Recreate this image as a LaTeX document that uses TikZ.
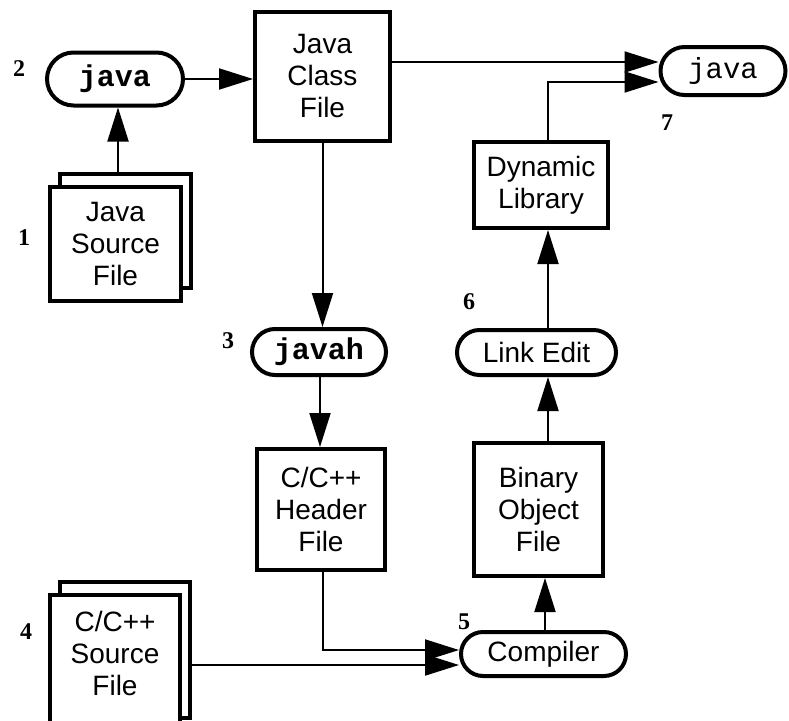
\documentclass[tikz,border=0pt]{standalone}
\usepackage{fontspec}
\setmainfont{Liberation Serif}
\setsansfont{Liberation Sans}
\setmonofont{Liberation Mono}
\usetikzlibrary{arrows.meta,shapes.misc,shadows}
\tikzset{
  filebox/.style={draw, line width=4pt, fill=white, align=center, inner sep=2pt, font=\sffamily\fontsize{28}{32}\selectfont},
  stackbox/.style={filebox, copy shadow={shadow xshift=10pt, shadow yshift=13pt}},
  toolpill/.style={rounded rectangle, draw, line width=4pt, fill=white, inner sep=2pt, font=\ttfamily\fontsize{30}{32}\selectfont},
  namepill/.style={toolpill, font=\sffamily\fontsize{28}{30}\selectfont},
  numlabel/.style={inner sep=0pt, font=\bfseries\fontsize{24}{24}\selectfont},
  flowarrow/.style={-{Triangle[length=34pt,width=21pt]}, line width=2pt}
}
\begin{document}
\begin{tikzpicture}[x=1pt, y=1pt]
  \useasboundingbox (0,0) rectangle (789,-720);
  % java side
  \node[toolpill, minimum width=140pt, minimum height=53pt, font=\ttfamily\bfseries\fontsize{30}{32}\selectfont] (jrun) at (115,-79) {java};
  \node[filebox, minimum width=135pt, minimum height=129pt] (jclass) at (322.5,-76.5) {Java\\Class\\File};
  \node[stackbox, minimum width=131pt, minimum height=114pt] (jsrc) at (115.5,-244) {Java\\Source\\File};
  \node[toolpill, minimum width=138pt, minimum height=46pt, font=\ttfamily\bfseries\fontsize{30}{32}\selectfont] (javah) at (319,-352) {javah};
  \node[filebox, minimum width=128pt, minimum height=121pt] (hdr) at (321,-509.5) {C/C++\\Header\\File};
  \node[stackbox, minimum width=130pt, minimum height=136pt] (csrc) at (115,-663) {C/C++\\Source\\File\\[-12pt]\mbox{}};
  % native side
  \node[namepill, minimum width=169pt, minimum height=44pt] (cc) at (543.5,-654) {Compiler};
  \node[filebox, minimum width=129pt, minimum height=133pt] (obj) at (538.5,-509.5) {Binary\\Object\\File};
  \node[namepill, minimum width=163pt, minimum height=45pt] (link) at (536.5,-352.5) {Link Edit};
  \node[filebox, minimum width=134pt, minimum height=86pt] (dlib) at (541,-185) {Dynamic\\Library};
  \node[toolpill, minimum width=129pt, minimum height=48pt, font=\ttfamily\fontsize{29}{31}\selectfont] (jrun2) at (723,-71) {java};
  % step numbers
  \node[numlabel] (n1) at (24,-238) {1};
  \node[numlabel] (n2) at (19,-69) {2};
  \node[numlabel] (n3) at (228,-341) {3};
  \node[numlabel] (n4) at (26,-632) {4};
  \node[numlabel] (n5) at (464,-622) {5};
  \node[numlabel] (n6) at (469,-302) {6};
  \node[numlabel] (n7) at (667,-123) {7};
  % connectors
  \draw[flowarrow] ([xshift=2.5pt,yshift=13pt]jsrc.north) -- ([xshift=3pt]jrun.south);
  \draw[flowarrow] (jrun.east) -- ([yshift=-2.5pt]jclass.west);
  \draw[flowarrow] (jclass.south) -- ([xshift=3.5pt]javah.north);
  \draw[flowarrow] ([xshift=1pt]javah.south) -- ([xshift=-1pt]hdr.north);
  \draw[flowarrow] ([xshift=2pt]hdr.south) |- ([yshift=4pt]cc.west);
  \draw[flowarrow] ([xshift=10pt,yshift=-2pt]csrc.east) -- ([yshift=-11pt]cc.west);
  \draw[flowarrow] ([xshift=1.5pt]cc.north) -- ([xshift=6.5pt]obj.south);
  \draw[flowarrow] ([xshift=9.5pt]obj.north) -- ([xshift=11.5pt]link.south);
  \draw[flowarrow] ([xshift=11.5pt]link.north) -- ([xshift=7pt]dlib.south);
  \draw[flowarrow] ([xshift=7pt]dlib.north) |- ([yshift=-11pt]jrun2.west);
  \draw[flowarrow] ([yshift=14.5pt]jclass.east) -- ([yshift=9pt]jrun2.west);
\end{tikzpicture}
\end{document}
